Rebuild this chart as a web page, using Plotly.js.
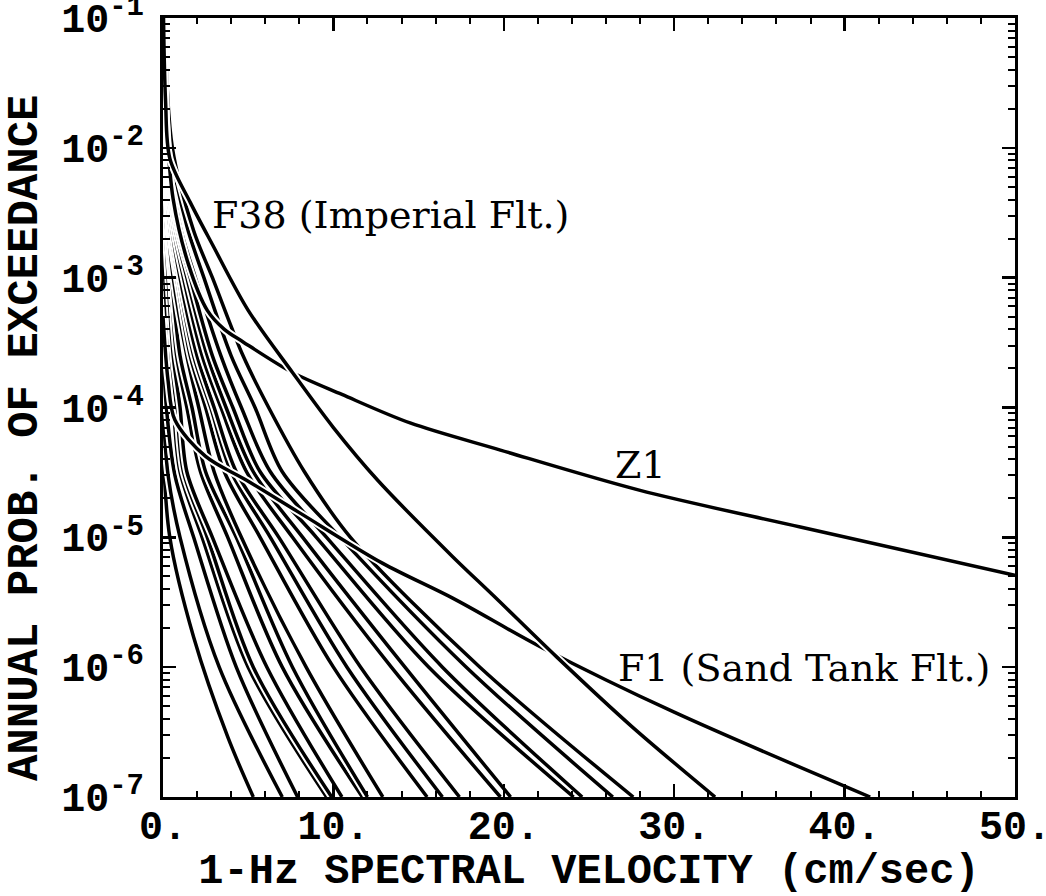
<!DOCTYPE html>
<html><head><meta charset="utf-8">
<script src="https://cdn.plot.ly/plotly-3.0.1.min.js"></script>
<style>html,body{margin:0;padding:0;background:#fff}#chart{width:1046px;height:896px}</style>
</head><body><div id="chart"></div>
<script>
// x tick labels / y tick labels
const xTickVals = [0, 10, 20, 30, 40, 50];
const xTickText = ['0.', '10.', '20.', '30.', '40.', '50.'];
const yTickVals = [1e-7, 1e-6, 1e-5, 1e-4, 1e-3, 1e-2, 1e-1];
const yExponents = ['-7', '-6', '-5', '-4', '-3', '-2', '-1'];

// hazard curves: 1-Hz spectral velocity (cm/sec) vs annual probability of exceedance
const c01x = [0, 0.4, 1.8, 3.8, 5.3];
const c01y = [5e-5, 1e-5, 1.7e-6, 2.9e-7, 1e-7];
const c02x = [0, 0.3, 1.0, 3.3, 7.0];
const c02y = [1e-4, 3e-5, 1e-5, 1e-6, 1e-7];
const c03x = [0, 0.2, 0.7, 1.8, 4.3, 7.9];
const c03y = [3e-4, 1e-4, 3e-5, 1e-5, 1e-6, 1e-7];
const c04x = [0, 0.15, 0.6, 1.0, 2.3, 5.0, 9.6];
const c04y = [1e-3, 3e-4, 1e-4, 3.2e-5, 1e-5, 1e-6, 1e-7];
const c05x = [0, 0.1, 0.4, 0.8, 1.2, 2.6, 5.3, 9.9];
const c05y = [3e-3, 1e-3, 2.5e-4, 1e-4, 3.2e-5, 1e-5, 1e-6, 1e-7];
const c06x = [0, 0.15, 0.3, 0.6, 1.0, 1.4, 2.9, 6.1, 10.5];
const c06y = [1e-2, 2.5e-3, 1e-3, 2.5e-4, 1e-4, 3.2e-5, 1e-5, 1e-6, 1e-7];
const c07x = [0, 0.1, 0.25, 0.45, 0.8, 1.4, 2.2, 3.8, 7.0, 11.7];
const c07y = [3e-2, 1e-2, 2.5e-3, 1e-3, 2.5e-4, 1e-4, 3.2e-5, 1e-5, 1e-6, 1e-7];
const c08x = [0, 0.2, 0.5, 1.0, 1.7, 2.5, 4.3, 7.6, 12.0];
const c08y = [6e-3, 2.5e-3, 1e-3, 2.5e-4, 1e-4, 3.2e-5, 1e-5, 1e-6, 1e-7];
const c09x = [0, 0.1, 0.3, 0.6, 1.4, 2.1, 3.0, 4.6, 8.4, 12.9];
const c09y = [6e-2, 1e-2, 2.5e-3, 1e-3, 2.5e-4, 1e-4, 3.2e-5, 1e-5, 1e-6, 1e-7];
const c10x = [0.02, 0.1, 0.35, 0.8, 1.6, 2.5, 3.6, 5.7, 10.0, 15.5];
const c10y = [1e-1, 1e-2, 2.5e-3, 1e-3, 2.5e-4, 1e-4, 3.2e-5, 1e-5, 1e-6, 1e-7];
const c11x = [0.02, 0.12, 0.4, 0.9, 1.8, 2.8, 4.0, 6.3, 10.8, 16.4];
const c11y = [1e-1, 1e-2, 2.5e-3, 1e-3, 2.5e-4, 1e-4, 3.2e-5, 1e-5, 1e-6, 1e-7];
const c12x = [0.03, 0.15, 0.5, 1.0, 2.0, 3.0, 4.3, 6.8, 11.6, 17.4];
const c12y = [1e-1, 1e-2, 2.5e-3, 1e-3, 2.5e-4, 1e-4, 3.2e-5, 1e-5, 1e-6, 1e-7];
const c13x = [0.03, 0.2, 0.6, 1.2, 2.3, 3.4, 4.9, 7.6, 13.4, 19.8];
const c13y = [1e-1, 1e-2, 2.5e-3, 1e-3, 2.5e-4, 1e-4, 3.2e-5, 1e-5, 1e-6, 1e-7];
const c14x = [0.04, 0.25, 0.7, 1.4, 2.6, 3.7, 5.3, 8.2, 14.2, 20.4];
const c14y = [1e-1, 1e-2, 2.5e-3, 1e-3, 2.5e-4, 1e-4, 3.2e-5, 1e-5, 1e-6, 1e-7];
const c15x = [0.05, 0.3, 0.8, 1.6, 2.9, 4.1, 5.7, 9.0, 15.6, 24.1];
const c15y = [1e-1, 1e-2, 2.5e-3, 1e-3, 2.5e-4, 1e-4, 3.2e-5, 1e-5, 1e-6, 1e-7];
const c16x = [0.06, 0.35, 1.0, 1.9, 3.4, 4.6, 6.3, 9.6, 16.4, 24.6];
const c16y = [1e-1, 1e-2, 2.5e-3, 1e-3, 2.5e-4, 1e-4, 3.2e-5, 1e-5, 1e-6, 1e-7];
const c17x = [0.08, 0.45, 1.4, 2.4, 4.0, 5.4, 7.0, 10.4, 17.8, 26.4];
const c17y = [1e-1, 1e-2, 2.5e-3, 1e-3, 2.5e-4, 1e-4, 3.2e-5, 1e-5, 1e-6, 1e-7];
const c18x = [0.1, 0.55, 1.8, 2.9, 4.7, 6.2, 8.3, 11.0, 18.6, 27.6];
const c18y = [1e-1, 1e-2, 2.3e-3, 1e-3, 2.5e-4, 1e-4, 3.2e-5, 1e-5, 1e-6, 1e-7];
// F38 (Imperial Flt.)
const f38x = [0.03, 0.15, 0.4, 1.6, 2.9, 5.0, 7.6, 10.0, 12.6, 17.0, 19.4, 23.1, 27.5, 32.4];
const f38y = [1e-1, 2.3e-2, 8.3e-3, 3.8e-3, 1.8e-3, 5.6e-4, 1.86e-4, 7e-5, 2.75e-5, 7.1e-6, 3.55e-6, 1.2e-6, 3.5e-7, 1e-7];
// Z1
const z1x = [0.03, 0.2, 0.6, 1.5, 2.6, 3.6, 4.7, 7.6, 10.5, 14.5, 19.8, 28.0, 37.4, 50.0];
const z1y = [1e-1, 1.6e-2, 4e-3, 1.26e-3, 5.6e-4, 4e-4, 3.2e-4, 1.86e-4, 1.26e-4, 7.6e-5, 4.7e-5, 2.3e-5, 1.2e-5, 5.1e-6];
// F1 (Sand Tank Flt.)
const f1x = [0, 0.3, 0.7, 2.5, 4.9, 8.0, 12.9, 17.0, 22.3, 30.0, 41.5];
const f1y = [5e-4, 1.6e-4, 8e-5, 4.2e-5, 2.75e-5, 1.55e-5, 6.3e-6, 3.4e-6, 1.4e-6, 4.5e-7, 1e-7];

const curveNames = ['C01','C02','C03','C04','C05','C06','C07','C08','C09','C10','C11','C12','C13','C14','C15','C16','C17','C18','F1','Z1','F38'];
const curveX = [c01x,c02x,c03x,c04x,c05x,c06x,c07x,c08x,c09x,c10x,c11x,c12x,c13x,c14x,c15x,c16x,c17x,c18x,f1x,z1x,f38x];
const curveY = [c01y,c02y,c03y,c04y,c05y,c06y,c07y,c08y,c09y,c10y,c11y,c12y,c13y,c14y,c15y,c16y,c17y,c18y,f1y,z1y,f38y];

const labelText = ['F38 (Imperial Flt.)', 'Z1', 'F1 (Sand Tank Flt.)'];
const xTitle = '1-Hz SPECTRAL VELOCITY (cm/sec)';
const yTitle = 'ANNUAL PROB. OF EXCEEDANCE';

const yTickText = yExponents.map(e => '10<sup><span style="font-size:29px">' + e + '</span></sup>');

const traces = [];
curveNames.forEach((name, i) => {
  traces.push({x: curveX[i], y: curveY[i], type: 'scatter', mode: 'lines', name: name + ' halo',
    line: {color: '#ffffff', width: 7.5, shape: 'spline', smoothing: 0.9}, hoverinfo: 'skip', showlegend: false});
  traces.push({x: curveX[i], y: curveY[i], type: 'scatter', mode: 'lines', name: name,
    line: {color: '#000000', width: 3.5, shape: 'spline', smoothing: 0.9}, showlegend: false});
});

const xMinor = [], yMinor = [];
for (let v = 2; v < 50; v += 2) if (v % 10 !== 0) xMinor.push(v);
for (let e = -7; e < -1; e++) for (let m = 2; m <= 9; m++) yMinor.push(m * Math.pow(10, e));

const axisCommon = {
  ticks: 'inside', ticklen: 13, tickwidth: 2.5, tickcolor: '#000',
  showline: true, linewidth: 3, linecolor: '#000', mirror: 'ticks',
  showgrid: false, zeroline: false, ticklabeloverflow: 'allow',
  tickfont: {family: 'Liberation Mono', size: 40, color: '#000', weight: 'bold'}
};

const layout = {
  width: 1046, height: 896,
  margin: {l: 163, r: 31, t: 18, b: 99},
  paper_bgcolor: '#fff', plot_bgcolor: '#fff',
  showlegend: false,
  font: {family: 'Liberation Mono', color: '#000'},
  xaxis: Object.assign({}, axisCommon, {
    range: [0, 50], tickmode: 'array', tickvals: xTickVals, ticktext: xTickText,
    ticklabelstandoff: -9,
    minor: {tickmode: 'array', tickvals: xMinor, ticks: 'inside', ticklen: 6, tickwidth: 2, tickcolor: '#000', showgrid: false},
    title: {text: xTitle, font: {family: 'Liberation Mono', size: 42, color: '#000', weight: 'bold'}, standoff: 14}
  }),
  yaxis: Object.assign({}, axisCommon, {
    type: 'log', range: [-7, -1], tickmode: 'array', tickvals: yTickVals, ticktext: yTickText,
    ticklabelstandoff: 8,
    minor: {tickmode: 'array', tickvals: yMinor, ticks: 'inside', ticklen: 7, tickwidth: 2, tickcolor: '#000', showgrid: false}
  }),
  annotations: [
    {x: -0.162, y: 0.462, xref: 'paper', yref: 'paper', text: yTitle, textangle: -90, showarrow: false,
      xanchor: 'center', yanchor: 'middle', font: {family: 'Liberation Mono', size: 44, color: '#000', weight: 'bold'}},
    {x: 2.76, y: -2.52, xref: 'x', yref: 'y', text: labelText[0], showarrow: false, xanchor: 'left', yanchor: 'middle',
      font: {family: 'DejaVu Serif', size: 38, color: '#000'}},
    {x: 28.0, y: -4.44, xref: 'x', yref: 'y', text: labelText[1], showarrow: false, xanchor: 'center', yanchor: 'middle',
      font: {family: 'DejaVu Serif', size: 38, color: '#000'}},
    {x: 26.6, y: -6.01, xref: 'x', yref: 'y', text: labelText[2], showarrow: false, xanchor: 'left', yanchor: 'middle',
      font: {family: 'DejaVu Serif', size: 38, color: '#000'}}
  ]
};

Plotly.newPlot('chart', traces, layout, {displayModeBar: false, staticPlot: true});
</script>
</body></html>
